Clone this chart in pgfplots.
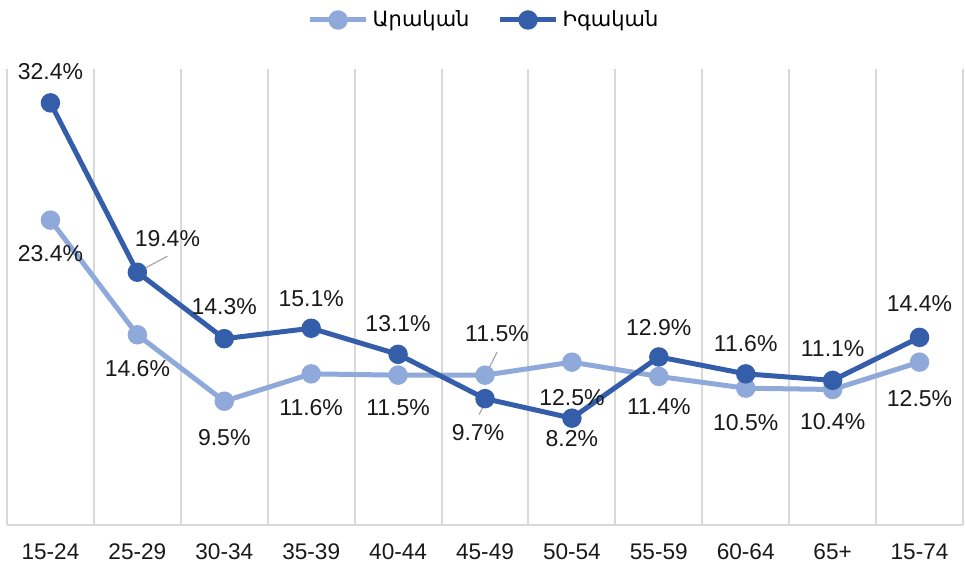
\documentclass[border=0pt]{standalone}
\usepackage{pgfplots}
\pgfplotsset{compat=1.18}
\usepackage{fontspec}
\setmainfont{Liberation Sans}
\newfontfamily\armfont{DejaVu Sans}
\definecolor{darkb}{RGB}{52,93,170}
\definecolor{lightb}{RGB}{143,169,219}
\definecolor{gridc}{RGB}{217,217,217}
\definecolor{leadc}{RGB}{166,166,166}
\begin{document}
\begin{tikzpicture}
\begin{axis}[
  scale only axis,
  width=478pt, height=228pt,
  at={(0pt,0pt)}, anchor=south west,
  xmin=-0.5, xmax=10.5, ymin=0, ymax=35,
  axis x line=bottom, axis y line=none,
  x axis line style={-, draw=gridc, line width=1pt},
  xtick={0,...,10},
  xticklabels={15-24,25-29,30-34,35-39,40-44,45-49,50-54,55-59,60-64,65+,15-74},
  major tick length=0pt, minor tick length=0pt,
  minor xtick={-0.5,0.5,...,10.5},
  xminorgrids=true,
  minor grid style={draw=gridc, line width=1pt},
  xticklabel style={anchor=center, yshift=-13.5pt, text=black!90, font=\fontsize{11.3}{13}\selectfont},
  legend columns=2,
  legend style={draw=none, fill=none, at={(axis description cs:0.5,1)}, anchor=center, yshift=24.5pt,
    font=\armfont\fontsize{10.5}{12}\selectfont,
    /tikz/every even column/.append style={column sep=12pt}},
  legend image code/.code={\draw[mark repeat=2,mark phase=2] plot coordinates {(0pt,0pt)(14pt,0pt)(28pt,0pt)};},
  clip=false,
]
\addplot[color=lightb, line width=2.5pt, mark=*, mark size=3.6pt, mark options={solid, fill=lightb, draw=lightb}] coordinates {
(0,23.4)(1,14.6)(2,9.5)(3,11.6)(4,11.5)(5,11.5)(6,12.5)(7,11.4)(8,10.5)(9,10.4)(10,12.5)};
\addlegendentry{Արական}
\addplot[color=darkb, line width=2.5pt, mark=*, mark size=3.6pt, mark options={solid, fill=darkb, draw=darkb}] coordinates {
(0,32.4)(1,19.4)(2,14.3)(3,15.1)(4,13.1)(5,9.7)(6,8.2)(7,12.9)(8,11.6)(9,11.1)(10,14.4)};
\addlegendentry{Իգական}
% leader lines
\draw[leadc, line width=0.6pt] ([shift={(1pt,1.5pt)}]axis cs:5,11.5) -- ([shift={(6pt,11.5pt)}]axis cs:5,11.5);
\draw[leadc, line width=0.6pt] ([shift={(1pt,0.5pt)}]axis cs:1,19.4) -- ([shift={(15pt,8pt)}]axis cs:1,19.4);
\draw[leadc, line width=0.6pt] ([shift={(1pt,-0.5pt)}]axis cs:5,9.7) -- ([shift={(-3pt,-8pt)}]axis cs:5,9.7);
\begin{scope}[every node/.style={font=\fontsize{11.5}{13}\selectfont, text=black!90, inner sep=0pt}]
% light labels
\node[yshift=-16.5pt] at (axis cs:0,23.4) {23.4\%};
\node[yshift=-17pt] at (axis cs:1,14.6) {14.6\%};
\node[yshift=-18pt] at (axis cs:2,9.5) {9.5\%};
\node[yshift=-17pt] at (axis cs:3,11.6) {11.6\%};
\node[yshift=-16pt] at (axis cs:4,11.5) {11.5\%};
\node[xshift=6pt, yshift=21pt] at (axis cs:5,11.5) {11.5\%};
\node[yshift=-17.5pt] at (axis cs:6,12.5) {12.5\%};
\node[yshift=-15pt] at (axis cs:7,11.4) {11.4\%};
\node[yshift=-17pt] at (axis cs:8,10.5) {10.5\%};
\node[yshift=-16pt] at (axis cs:9,10.4) {10.4\%};
\node[yshift=-18pt] at (axis cs:10,12.5) {12.5\%};
% dark labels
\node[yshift=15.5pt] at (axis cs:0,32.4) {32.4\%};
\node[xshift=15pt, yshift=17pt] at (axis cs:1,19.4) {19.4\%};
\node[yshift=16pt] at (axis cs:2,14.3) {14.3\%};
\node[yshift=15pt] at (axis cs:3,15.1) {15.1\%};
\node[yshift=15.5pt] at (axis cs:4,13.1) {13.1\%};
\node[xshift=-3.5pt, yshift=-17pt] at (axis cs:5,9.7) {9.7\%};
\node[yshift=-10pt] at (axis cs:6,8.2) {8.2\%};
\node[yshift=14.5pt] at (axis cs:7,12.9) {12.9\%};
\node[yshift=15pt] at (axis cs:8,11.6) {11.6\%};
\node[yshift=16pt] at (axis cs:9,11.1) {11.1\%};
\node[yshift=17pt] at (axis cs:10,14.4) {14.4\%};
\end{scope}
\end{axis}
\pgfresetboundingbox
\path (-3.5pt,-20.5pt) rectangle (479.5pt,262.5pt);
\end{tikzpicture}
\end{document}
